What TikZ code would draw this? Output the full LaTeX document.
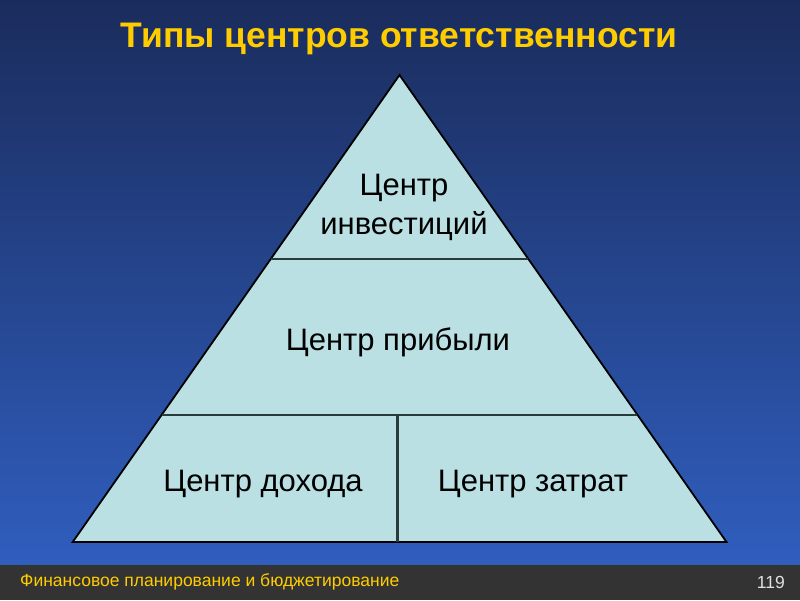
\documentclass[tikz,border=0pt]{standalone}
\usepackage{fontspec}
\setmainfont{Liberation Sans}
\definecolor{bgtop}{RGB}{26,44,92}
\definecolor{bgbot}{RGB}{48,94,190}
\definecolor{footbar}{RGB}{51,51,51}
\definecolor{trifill}{RGB}{186,224,227}
\definecolor{divline}{RGB}{40,60,60}
\definecolor{titlecol}{RGB}{255,204,0}
\definecolor{numcol}{RGB}{225,225,225}
\tikzset{
  lbl/.style={font=\fontsize{31}{37}\selectfont, text=black, align=center, inner sep=0pt},
  divider/.style={draw=divline, line width=2.2pt},
}
\begin{document}
\begin{tikzpicture}[x=1pt,y=-1pt]
\useasboundingbox (0,0) rectangle (800,600);
\shade[top color=bgtop, bottom color=bgbot] (0,0) rectangle (800,565);
\fill[footbar] (0,565) rectangle (800,600);
% title
\node[font=\bfseries\fontsize{35.5}{42}\selectfont, text=titlecol, inner sep=0pt] (title) at (399,39) {Типы центров ответственности};
% triangle
\coordinate (A) at (399.5,75);
\coordinate (L) at (72.7,542);
\coordinate (R) at (726.5,542);
\filldraw[fill=trifill, draw=black, line width=1.8pt, line join=miter] (A) -- (L) -- (R) -- cycle;
\coordinate (d1l) at (271,259);
\coordinate (d1r) at (528,259);
\coordinate (d2l) at (162,415);
\coordinate (d2r) at (637,415);
\coordinate (vt) at (397.5,415);
\coordinate (vb) at (397.5,542);
\draw[divider] (d1l) -- (d1r);
\draw[divider] (d2l) -- (d2r);
\draw[divider] (vt) -- (vb);
% labels
\node[lbl] (inv) at (404,207) {Центр\\[2pt]инвестиций};
\node[lbl] (prof) at (398,342) {Центр прибыли};
\node[lbl] (rev) at (263,484) {Центр дохода};
\node[lbl] (cost) at (533,484) {Центр затрат};
% footer
\node[anchor=west, font=\fontsize{17.5}{20}\selectfont, text=titlecol, inner sep=0pt] (foot) at (20,582) {Финансовое планирование и бюджетирование};
\node[anchor=east, font=\fontsize{17.5}{20}\selectfont, text=numcol, inner sep=0pt] (num) at (785,582) {119};
\end{tikzpicture}
\end{document}
